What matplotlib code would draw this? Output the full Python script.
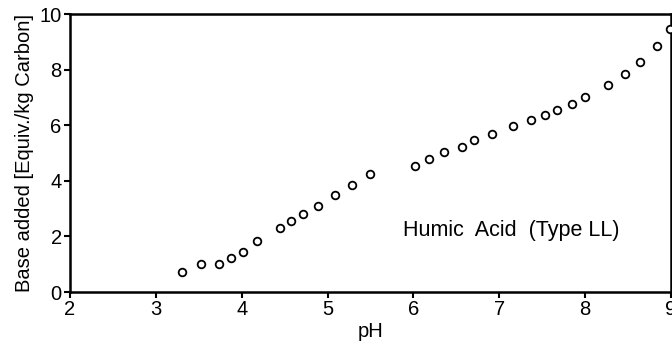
import matplotlib
matplotlib.use("Agg")
import matplotlib.pyplot as plt

ph = [3.30, 3.52, 3.74, 3.88, 4.01, 4.18, 4.45, 4.57, 4.71, 4.89, 5.09, 5.28, 5.49,
      6.02, 6.18, 6.36, 6.56, 6.71, 6.92, 7.16, 7.37, 7.53, 7.67, 7.85, 8.00,
      8.27, 8.47, 8.64, 8.84, 8.99]
base = [0.72, 1.00, 1.00, 1.23, 1.45, 1.82, 2.29, 2.54, 2.79, 3.09, 3.50, 3.85, 4.23,
        4.54, 4.77, 5.04, 5.23, 5.48, 5.69, 5.96, 6.18, 6.36, 6.55, 6.77, 7.01,
        7.46, 7.85, 8.27, 8.86, 9.45]
xticks = [2, 3, 4, 5, 6, 7, 8, 9]
yticks = [0, 2, 4, 6, 8, 10]

plt.rcParams['font.family'] = ['Liberation Sans', 'DejaVu Sans']

fig = plt.figure(figsize=(6.72, 3.47), dpi=100)
ax = fig.add_axes([70/672, 1 - 292/347, 601/672, 278/347])
ax.plot(ph, base, linestyle='none', marker='o', markersize=5.5,
        markerfacecolor='white', markeredgecolor='black', markeredgewidth=1.3,
        clip_on=False, zorder=3)
ax.set_xlim(2, 9)
ax.set_ylim(0, 10)
ax.set_xticks(xticks)
ax.set_yticks(yticks)
ax.tick_params(direction='out', length=4, width=1.5, labelsize=14.5, pad=2)
for s in ax.spines.values():
    s.set_linewidth(1.8)
ax.set_xlabel("pH", fontsize=14.5, labelpad=2)
ax.set_ylabel("Base added [Equiv./kg Carbon]", fontsize=14.5, labelpad=4)
ax.text(5.88, 2.23, "Humic  Acid  (Type LL)", fontsize=15.5, va='center', ha='left')
fig.savefig("out.png", dpi=100)
